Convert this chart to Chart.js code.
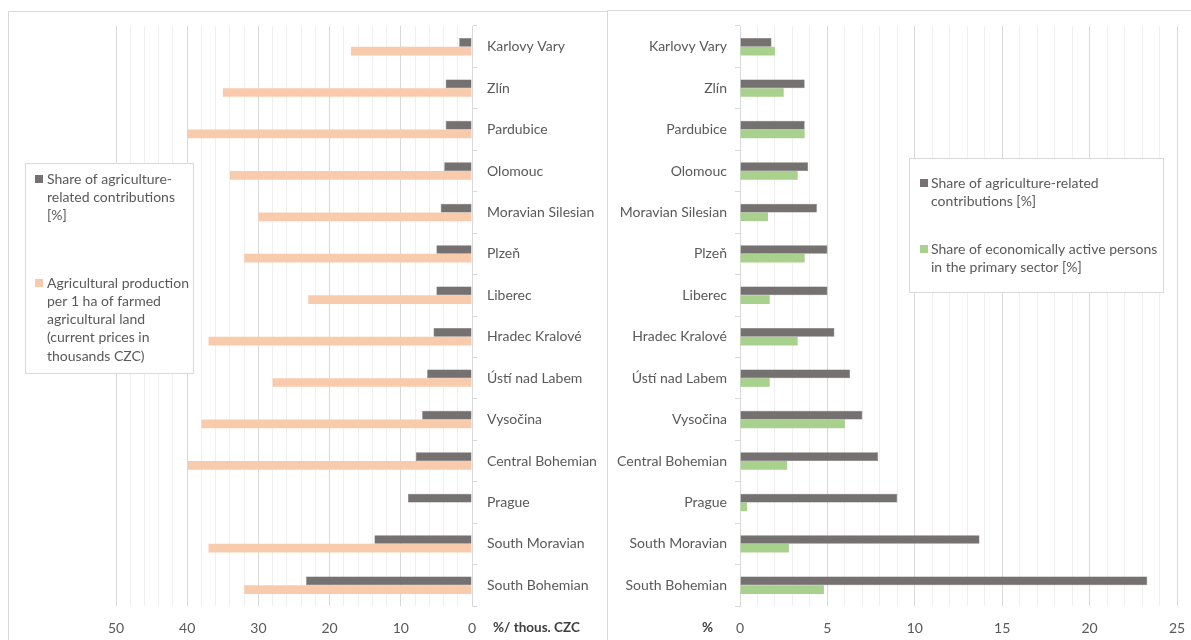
<!DOCTYPE html>
<html>
<head>
<meta charset="utf-8">
<script src="https://cdn.jsdelivr.net/npm/chart.js@4.4.1/dist/chart.umd.min.js"></script>
<style>
    html, body { margin: 0; padding: 0; background: #fff; overflow: hidden; }
    body { width: 1191px; height: 640px; position: relative; }
    .panel { position: absolute; border: 1px solid #d9d9d9; box-sizing: border-box; background: #fff; }
    #leftPanel { left: 8px; top: 11px; width: 600px; height: 660px; }
    #rightPanel { left: 607px; top: 10px; width: 600px; height: 660px; }
    canvas { position: absolute; left: 0; top: 0; }
</style>
</head>
<body>
<div class="panel" id="leftPanel"><div style="position:absolute;left:0;top:0;width:598px;height:628px"><canvas id="leftChart"></canvas></div></div>
<div class="panel" id="rightPanel"><div style="position:absolute;left:0;top:0;width:598px;height:629px"><canvas id="rightChart"></canvas></div></div>
<script>
// regions, top to bottom
const regions = ['Karlovy Vary', 'Zlín', 'Pardubice', 'Olomouc', 'Moravian Silesian', 'Plzeň', 'Liberec',
    'Hradec Kralové', 'Ústí nad Labem', 'Vysočina', 'Central Bohemian', 'Prague', 'South Moravian', 'South Bohemian'];

// share of agriculture-related contributions [%]
const contributionShare = [1.8, 3.7, 3.7, 3.9, 4.4, 5.0, 5.0, 5.4, 6.3, 7.0, 7.9, 9.0, 13.7, 23.3];
// agricultural production per 1 ha of farmed land [thous. CZC]
const productionPerHa = [17, 35, 40, 34, 30, 32, 23, 37, 28, 38, 40, null, 37, 32];
// share of economically active persons in the primary sector [%]
const activeShare = [2.0, 2.5, 3.7, 3.3, 1.6, 3.7, 1.7, 3.3, 1.7, 6.0, 2.7, 0.4, 2.8, 4.8];

const leftTicks = [0, 10, 20, 30, 40, 50];
const rightTicks = [0, 5, 10, 15, 20, 25];

const contributionLabel = 'Share of agriculture-related contributions [%]';
const productionLabel = 'Agricultural production per 1 ha of farmed agricultural land (current prices in thousands CZC)';
const activeLabel = 'Share of economically active persons in the primary sector [%]';

const FONT = 'Lato, "Open Sans", sans-serif';
const TEXT = '#595959';
const DARK = '#767171';
const PEACH = '#f8cbad';
const GREEN = '#a9d18e';

Chart.defaults.font.family = FONT;
Chart.defaults.font.size = 14;
Chart.defaults.color = TEXT;
Chart.defaults.animation = false;

// boxed legend with hand-wrapped lines
function boxLegend(box, entries) {
    return {
        id: 'boxLegend',
        afterDraw(chart) {
            const ctx = chart.ctx;
            ctx.save();
            ctx.fillStyle = '#fff';
            ctx.fillRect(box.x, box.y, box.w, box.h);
            ctx.strokeStyle = '#d9d9d9';
            ctx.lineWidth = 1;
            ctx.strokeRect(box.x + 0.5, box.y + 0.5, box.w, box.h);
            ctx.font = '14px ' + FONT;
            ctx.textBaseline = 'middle';
            entries.forEach(function (e) {
                ctx.fillStyle = chart.data.datasets[e.dataset].backgroundColor;
                ctx.fillRect(box.x + e.sx, e.y - 4, 8, 8);
                ctx.fillStyle = TEXT;
                e.lines.forEach(function (line, i) {
                    ctx.fillText(line, box.x + e.tx, e.y + i * 18.3);
                });
            });
            ctx.restore();
        }
    };
}

function axisTitle(text, side) {
    return {
        id: 'axisTitle',
        afterDraw(chart) {
            const ctx = chart.ctx;
            const xs = chart.scales.x;
            const px = xs.getPixelForValue(0);
            ctx.save();
            ctx.font = 'bold 13.5px ' + FONT;
            ctx.fillStyle = '#404040';
            ctx.textBaseline = 'middle';
            if (side === 'right') {
                ctx.textAlign = 'left';
                ctx.fillText(text, px + 21, 616);
            } else {
                ctx.textAlign = 'right';
                ctx.fillText(text, px - 27, 617);
            }
            ctx.restore();
        }
    };
}

function xGridColor(ctx, major) {
    const v = ctx.tick ? ctx.tick.value : 0;
    return v % major === 0 ? '#d9d9d9' : '#efefef';
}

function noPadding(s) {
    s.paddingTop = 0;
    s.paddingBottom = 0;
    s.paddingLeft = 0;
    s.paddingRight = 0;
}

// left chart
const leftCtx = document.getElementById('leftChart').getContext('2d');
const leftChart = new Chart(leftCtx, {
    type: 'bar',
    data: {
        labels: regions,
        datasets: [{
            label: contributionLabel,
            data: contributionShare,
            backgroundColor: DARK,
            borderColor: '#6a6565',
            borderWidth: 0.5,
            categoryPercentage: 0.42,
            barPercentage: 1
        }, {
            label: productionLabel,
            data: productionPerHa,
            backgroundColor: PEACH,
            categoryPercentage: 0.42,
            barPercentage: 1
        }]
    },
    options: {
        indexAxis: 'y',
        responsive: true,
        maintainAspectRatio: false,
        layout: { padding: { left: 107, top: 14, right: 0, bottom: 0 } },
        scales: {
            x: {
                min: 0,
                max: 50,
                reverse: true,
                border: { display: false },
                grid: {
                    drawTicks: false,
                    color: function (c) { return xGridColor(c, 10); }
                },
                ticks: {
                    stepSize: 2,
                    autoSkip: false,
                    maxRotation: 0,
                    padding: 14,
                    callback: function (v) { return leftTicks.includes(v) ? String(v) : ''; }
                },
                afterFit: function (s) { s.height = 34; noPadding(s); }
            },
            y: {
                position: 'right',
                border: { color: '#d9d9d9' },
                grid: { offset: true, drawOnChartArea: false, tickLength: 5, color: '#d9d9d9' },
                ticks: { padding: 10, autoSkip: false },
                afterFit: function (s) { s.width = 135; noPadding(s); }
            }
        },
        plugins: {
            legend: { display: false },
            tooltip: { enabled: false }
        }
    },
    plugins: [
        boxLegend({ x: 16, y: 151, w: 168, h: 210 }, [
            { dataset: 0, sx: 10, tx: 22, y: 167, lines: ['Share of agriculture-', 'related contributions', '[%]'] },
            { dataset: 1, sx: 10, tx: 22, y: 271, lines: ['Agricultural production', 'per 1 ha of farmed', 'agricultural land', '(current prices in', 'thousands CZC)'] }
        ]),
        axisTitle('%/ thous. CZC', 'right')
    ]
});

// right chart
const rightCtx = document.getElementById('rightChart').getContext('2d');
const rightChart = new Chart(rightCtx, {
    type: 'bar',
    data: {
        labels: regions,
        datasets: [{
            label: contributionLabel,
            data: contributionShare,
            backgroundColor: DARK,
            borderColor: '#6a6565',
            borderWidth: 0.5,
            categoryPercentage: 0.42,
            barPercentage: 1
        }, {
            label: activeLabel,
            data: activeShare,
            backgroundColor: GREEN,
            categoryPercentage: 0.42,
            barPercentage: 1
        }]
    },
    options: {
        indexAxis: 'y',
        responsive: true,
        maintainAspectRatio: false,
        layout: { padding: { left: 0, top: 15, right: 29, bottom: 0 } },
        scales: {
            x: {
                min: 0,
                max: 25,
                border: { display: false },
                grid: {
                    drawTicks: false,
                    color: function (c) { return xGridColor(c, 5); }
                },
                ticks: {
                    stepSize: 1,
                    autoSkip: false,
                    maxRotation: 0,
                    padding: 14,
                    callback: function (v) { return rightTicks.includes(v) ? String(v) : ''; }
                },
                afterFit: function (s) { s.height = 34; noPadding(s); }
            },
            y: {
                position: 'left',
                border: { color: '#d9d9d9' },
                grid: { offset: true, drawOnChartArea: false, tickLength: 5, color: '#d9d9d9' },
                ticks: { padding: 8, autoSkip: false },
                afterFit: function (s) { s.width = 132; noPadding(s); }
            }
        },
        plugins: {
            legend: { display: false },
            tooltip: { enabled: false }
        }
    },
    plugins: [
        boxLegend({ x: 301, y: 147, w: 254, h: 134 }, [
            { dataset: 0, sx: 11, tx: 22, y: 172, lines: ['Share of agriculture-related', 'contributions [%]'] },
            { dataset: 1, sx: 11, tx: 22, y: 238, lines: ['Share of economically active persons', 'in the primary sector [%]'] }
        ]),
        axisTitle('%', 'left')
    ]
});
</script>
</body>
</html>
